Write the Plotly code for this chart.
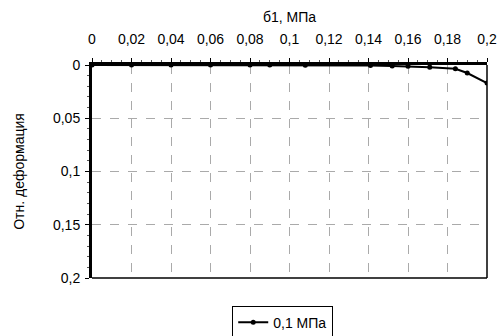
import plotly.graph_objects as go

# Stress (MPa) and relative strain for the 0,1 MPa test
stress = [0.0, 0.02, 0.04, 0.06, 0.08, 0.09, 0.108, 0.141, 0.152, 0.16, 0.171, 0.184, 0.19, 0.2]
strain = [0.0, 0.0, 0.0, 0.0, 0.0, 0.0, 0.0003, 0.0005, 0.001, 0.0012, 0.002, 0.0035, 0.0075, 0.017]
series_name = "0,1 МПа"

x_ticks = [0, 0.02, 0.04, 0.06, 0.08, 0.1, 0.12, 0.14, 0.16, 0.18, 0.2]
x_labels = ["0", "0,02", "0,04", "0,06", "0,08", "0,1", "0,12", "0,14", "0,16", "0,18", "0,2"]
y_ticks = [0, 0.05, 0.1, 0.15, 0.2]
y_labels = ["0", "0,05", "0,1", "0,15", "0,2"]

font = dict(family="Liberation Sans, Arial, sans-serif", size=14, color="black")

fig = go.Figure()
fig.add_trace(go.Scatter(
    x=stress, y=strain, name=series_name, mode="lines+markers",
    line=dict(color="black", width=2),
    marker=dict(color="black", size=5, symbol="circle"),
))

fig.update_layout(
    width=499, height=336,
    margin=dict(l=92, r=12, t=65, b=58, autoexpand=False),
    paper_bgcolor="white", plot_bgcolor="white",
    font=font,
    showlegend=True,
    legend=dict(
        x=0.355, y=-0.13, xanchor="left", yanchor="top",
        bordercolor="black", borderwidth=1, bgcolor="white",
        font=font, itemwidth=30,
    ),
    xaxis=dict(
        side="top", range=[0, 0.2], tickvals=x_ticks, ticktext=x_labels,
        showgrid=True, gridcolor="#aaaaaa", griddash="dash", gridwidth=1,
        showline=True, linecolor="black", linewidth=3, mirror=False,
        ticks="outside", ticklen=4, tickcolor="black",
        ticklabelstandoff=8,
        minor=dict(dtick=0.005, ticks="outside", ticklen=2, tickcolor="#555555", showgrid=False),
        zeroline=False,
        title=dict(text="б1, МПа", standoff=6, font=font),
    ),
    yaxis=dict(
        range=[0.2, 0], tickvals=y_ticks, ticktext=y_labels,
        showgrid=True, gridcolor="#aaaaaa", griddash="dash", gridwidth=1,
        showline=True, linecolor="black", linewidth=3, mirror=False,
        ticks="outside", ticklen=4, tickcolor="black",
        ticklabelstandoff=2,
        minor=dict(dtick=0.01, ticks="outside", ticklen=2, tickcolor="#555555", showgrid=False),
        zeroline=False,
        title=dict(text="Отн. деформация", standoff=26, font=font),
    ),
)

# right/bottom borders are drawn thinner than the top/left ones
fig.add_shape(type="line", xref="paper", yref="paper", x0=1, x1=1, y0=0, y1=1,
              line=dict(color="black", width=1.5))
fig.add_shape(type="line", xref="paper", yref="paper", x0=0, x1=1, y0=0, y1=0,
              line=dict(color="black", width=1.5))

fig.write_html("out.html")
